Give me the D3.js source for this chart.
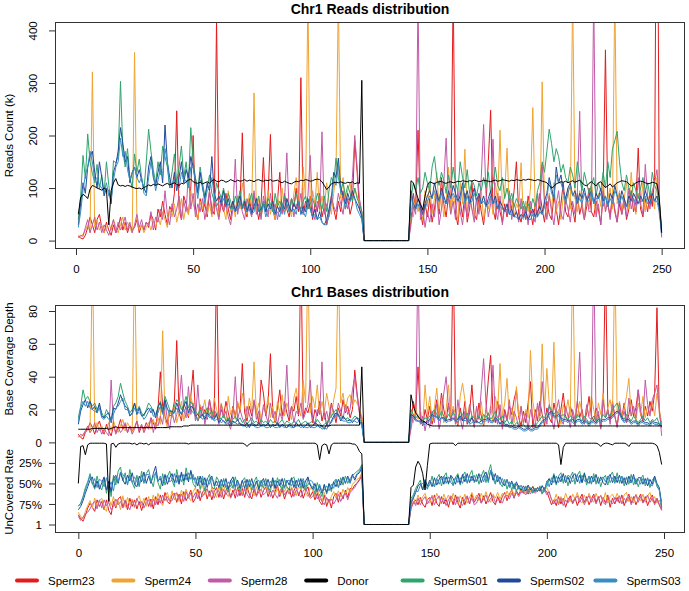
<!DOCTYPE html>
<html><head><meta charset="utf-8">
<script src="https://cdn.jsdelivr.net/npm/d3@7/dist/d3.min.js"></script>
<style>
body{margin:0;background:#fff}
svg{display:block}
text{font-family:"Liberation Sans",Arial,Helvetica,sans-serif;fill:#000}
</style>
</head><body>
<svg id="chart" width="689" height="591"></svg>
<script>
// ---------- DATA ----------
const seriesNames = ["Sperm23","Sperm24","Sperm28","Donor","SpermS01","SpermS02","SpermS03"];
const seriesColors = ["#E41A1C","#F0A432","#C05BA8","#000000","#2FA46E","#1F4A9B","#3A8DC2"];
const xTicksTop = [0,50,100,150,200,250];
const xTicksBottom = [0,50,100,150,200,250];
const readsTicks = [0,100,200,300,400];
const depthTicks = [0,20,40,60,80];
const rateTicks = [25,50,75,100];
const rateTickLabels = ["25%","50%","75%","1"];

// Reads count (k), bins 0..249
const readsSperm23 = [
8,5,3,10,25,45,30,15,40,50,
25,15,35,20,10,30,15,25,45,20,
35,15,30,20,25,40,15,30,20,35,
25,50,40,20,60,45,75,50,30,65,
55,90,247,60,40,85,70,50,100,200,
60,40,80,55,70,45,95,60,50,420,
45,70,55,90,60,40,75,55,85,65,
205,60,45,80,55,90,65,40,70,158,
55,85,202,60,40,75,130,55,90,60,
45,80,65,100,55,310,50,75,60,85,
40,70,55,90,45,65,30,50,85,60,
40,75,55,95,60,80,50,70,190,130,
60,50,0,0,0,0,0,0,0,0,
0,0,0,0,0,0,0,0,0,0,
0,0,40,90,60,210,55,30,70,45,
80,35,60,95,50,120,70,45,85,60,
480,50,30,75,45,90,35,60,110,50,
40,85,55,30,70,150,248,60,40,90,
55,35,70,45,80,60,95,150,50,35,
65,40,85,55,30,70,45,90,60,35,
75,50,40,85,60,30,70,110,55,45,
80,60,35,90,50,70,40,65,100,55,
45,75,60,30,85,363,70,45,90,55,
35,70,50,85,40,60,95,55,75,176,
60,45,80,55,90,65,120,900,50,30];
const readsSperm24 = [
10,8,12,20,30,15,321,25,40,20,
30,15,25,35,20,40,25,15,30,45,
20,35,25,15,358,40,20,30,15,25,
35,20,40,25,45,30,55,40,25,60,
45,70,35,55,80,40,65,50,95,70,
55,40,75,60,85,50,70,45,90,65,
50,80,60,40,95,55,70,45,85,60,
110,75,50,90,65,281,55,80,45,70,
60,95,50,75,40,85,60,100,55,80,
65,45,90,120,70,55,140,80,470,60,
95,70,130,55,85,60,110,75,50,90,
130,470,80,120,65,95,110,75,100,85,
70,55,0,0,0,0,0,0,0,0,
0,0,0,0,0,0,0,0,0,0,
0,0,60,45,85,55,75,40,95,65,
110,50,80,130,60,95,45,75,140,55,
85,65,40,110,70,174,55,90,60,45,
80,55,95,40,70,60,85,50,110,75,
210,60,90,176,55,80,45,70,60,148,
40,75,55,100,253,60,85,50,302,70,
45,90,60,110,55,75,40,85,65,100,
60,470,80,55,95,70,45,85,60,110,
75,50,90,65,120,55,80,100,60,480,
70,95,55,80,110,60,130,75,50,90,
65,110,55,85,70,95,60,120,75,25];
const readsSperm28 = [
5,10,8,25,40,15,30,45,20,35,
15,30,20,10,25,40,15,35,20,30,
45,20,35,15,30,50,25,40,20,35,
30,55,20,45,35,60,40,95,50,30,
70,45,60,85,40,75,55,130,60,90,
45,70,55,80,40,65,95,50,75,60,
40,85,55,70,45,30,60,155,50,75,
55,40,80,60,45,95,50,70,40,85,
60,45,90,55,70,40,65,50,75,167,
55,80,45,70,60,90,50,65,85,162,
55,40,75,60,207,50,70,45,85,65,
55,90,70,50,85,60,75,120,200,140,
80,55,0,0,0,0,0,0,0,0,
0,0,0,0,0,0,0,0,0,0,
0,0,30,65,50,470,40,60,25,55,
35,70,45,90,30,60,110,195,80,50,
75,40,95,55,30,70,45,85,60,35,
80,50,120,221,90,45,70,193,60,40,
85,30,65,50,95,40,70,55,35,80,
45,65,30,75,50,35,90,60,145,70,
40,85,55,30,70,95,50,40,80,60,
35,75,50,90,246,60,40,85,55,55,
470,45,70,30,95,55,75,40,85,60,
35,90,50,70,45,100,60,80,55,120,
70,50,145,85,60,95,110,135,75,6];
const readsDonor = [
50,82,88,85,80,98,105,103,100,98,
96,100,97,30,95,110,118,106,104,105,
103,105,104,102,100,99,100,98,101,103,
106,104,107,105,108,106,104,107,109,106,
108,110,107,105,109,108,112,115,117,112,
110,109,111,108,110,112,109,114,116,113,
112,115,114,111,113,116,114,112,115,113,
114,116,113,115,114,112,115,116,114,113,
115,114,116,113,114,115,112,110,113,111,
109,108,111,113,112,115,114,116,115,113,
114,116,117,116,112,105,97,102,108,110,
111,110,112,110,109,111,110,112,108,110,
109,305,0,0,0,0,0,0,0,0,
0,0,0,0,0,0,0,0,0,0,
0,0,114,110,95,80,70,59,85,105,
112,110,108,111,112,113,110,109,111,112,
110,111,113,112,114,113,112,114,113,115,
114,112,113,115,114,113,112,114,115,113,
114,116,115,114,113,115,114,116,115,114,
116,115,117,116,115,114,116,115,113,112,
110,105,100,103,108,110,112,111,113,110,
112,114,111,113,115,110,106,104,109,112,
108,104,110,112,106,101,104,108,102,106,
110,112,114,113,112,108,104,106,110,112,
113,112,110,108,109,111,110,108,80,15];
const readsSpermS01 = [
40,85,162,118,203,150,128,110,145,98,
125,90,150,105,75,152,148,160,303,170,
140,175,120,100,165,130,155,120,95,150,
212,170,135,110,150,125,180,160,140,100,
130,165,110,140,180,120,150,105,215,150,
120,95,140,110,85,100,125,90,75,110,
95,80,100,70,90,75,60,85,70,95,
65,80,55,75,90,60,70,85,55,75,
60,80,70,55,90,65,75,60,85,70,
55,80,65,90,70,60,75,85,60,70,
80,65,90,75,60,85,55,95,120,110,
157,120,95,110,85,105,90,75,100,80,
70,55,0,0,0,0,0,0,0,0,
0,0,0,0,0,0,0,0,0,0,
0,0,80,110,95,120,90,100,130,110,
95,140,160,120,105,130,115,90,125,100,
140,110,95,150,120,100,135,90,115,105,
85,110,95,120,100,130,90,110,140,105,
95,120,80,100,75,90,65,80,70,60,
75,55,70,60,80,65,95,110,150,130,
170,212,185,150,175,160,130,145,120,110,
140,125,100,150,120,95,130,110,90,105,
120,85,110,95,130,100,150,120,175,190,
208,150,110,95,125,100,85,110,95,80,
100,120,95,110,85,130,105,95,70,20];
const readsSpermS02 = [
30,70,110,90,140,160,170,130,100,150,
120,85,100,95,70,130,145,170,215,185,
150,160,110,130,140,120,135,115,100,90,
140,160,120,105,130,150,110,220,150,120,
100,130,95,120,150,110,135,120,160,140,
115,90,130,100,80,110,95,160,90,75,
85,70,95,65,80,60,75,55,70,85,
60,75,55,70,50,65,80,55,60,70,
55,70,60,75,50,65,55,70,60,80,
65,55,70,60,75,50,65,55,80,60,
45,60,40,55,35,30,40,60,80,130,
120,157,100,85,70,90,75,95,80,70,
60,45,0,0,0,0,0,0,0,0,
0,0,0,0,0,0,0,0,0,0,
0,0,95,70,60,80,65,50,70,85,
95,80,110,90,75,100,85,70,95,80,
105,90,75,85,110,80,95,70,85,100,
75,90,70,85,65,80,95,70,85,60,
75,65,55,70,50,60,45,55,40,50,
45,55,40,50,60,45,55,65,50,75,
90,120,100,80,140,110,125,95,80,100,
110,85,95,70,90,80,100,75,85,95,
70,90,80,100,75,85,65,90,80,105,
85,70,95,80,65,85,75,90,80,70,
85,75,95,80,70,90,75,85,60,15];
const readsSpermS03 = [
25,55,95,125,140,170,150,115,120,105,
100,90,110,85,80,115,140,150,195,160,
170,135,115,130,140,120,110,120,90,85,
120,150,125,95,115,135,120,175,150,100,
105,115,100,100,130,115,115,100,140,140,
110,80,115,105,70,95,100,120,85,65,
75,70,80,65,70,60,65,55,60,75,
60,65,55,60,50,55,70,55,50,70,
45,60,65,65,50,55,45,70,50,70,
55,55,60,50,75,50,55,45,70,60,
45,50,40,45,35,30,30,50,70,115,
105,145,90,85,60,80,75,85,80,60,
50,40,0,0,0,0,0,0,0,0,
0,0,0,0,0,0,0,0,0,0,
0,0,90,60,60,70,55,50,60,75,
85,80,95,80,75,90,75,70,85,80,
90,80,75,75,105,70,85,70,75,90,
75,80,70,75,65,70,85,70,75,60,
65,60,55,60,50,50,45,45,40,40,
45,45,40,40,50,45,45,55,50,65,
80,115,90,80,125,110,110,95,70,90,
105,85,85,70,80,70,90,75,75,95,
70,80,80,90,65,85,65,80,70,95,
85,70,85,70,65,75,75,80,70,70,
75,75,85,70,70,80,75,75,55,10];

// Base coverage depth, bins 0..249
const depthSperm23 = [
5,3,2,6,8,12,9,5,10,13,
8,5,11,7,4,10,6,9,14,8,
11,6,10,7,9,13,6,10,8,12,
9,15,12,8,20,43,22,16,11,19,
17,25,62,18,13,24,20,15,28,44,
18,13,22,16,20,14,26,18,15,110,
14,20,16,25,18,12,22,16,24,19,
48,18,13,22,16,25,19,12,38,30,
16,24,54,18,12,21,32,16,25,18,
13,22,19,28,16,120,15,21,18,24,
12,20,16,25,13,19,10,15,24,18,
12,21,16,26,18,22,15,20,44,30,
18,15,0,0,0,0,0,0,0,0,
0,0,0,0,0,0,0,0,0,0,
0,0,12,25,18,46,16,10,20,14,
22,11,18,26,15,30,20,13,24,17,
120,15,10,21,13,25,11,18,35,15,
12,24,16,10,20,38,53,18,12,25,
16,10,20,14,22,17,26,32,15,10,
19,12,24,37,9,20,13,25,17,10,
21,15,12,24,17,9,20,30,16,13,
22,17,10,25,15,20,12,18,28,16,
13,21,17,9,24,110,20,13,25,16,
10,20,15,24,12,17,26,16,21,32,
17,13,22,16,25,19,30,82,18,9];
const depthSperm24 = [
4,3,5,7,9,6,120,8,12,7,
10,6,9,12,7,13,9,6,10,14,
7,12,9,6,120,13,8,11,6,9,
12,8,14,9,15,11,68,14,9,20,
15,22,12,18,25,13,20,16,28,22,
17,13,23,19,26,15,21,14,27,20,
15,24,18,13,28,17,21,14,25,18,
30,22,15,27,19,49,17,24,14,21,
18,28,15,22,12,25,18,29,16,24,
19,14,27,33,21,16,38,24,115,18,
28,21,35,17,25,18,30,22,15,26,
33,115,24,30,19,27,29,22,26,24,
20,16,0,0,0,0,0,0,0,0,
0,0,0,0,0,0,0,0,0,0,
0,0,15,12,22,14,20,11,35,17,
28,13,21,33,16,25,12,20,35,14,
22,17,11,28,36,26,14,23,16,12,
21,14,25,11,19,16,22,13,28,20,
48,16,24,39,14,21,12,34,16,22,
11,20,15,56,25,16,22,13,60,19,
45,24,16,61,15,20,11,23,17,26,
16,115,21,15,25,18,12,22,16,28,
20,13,24,17,30,15,21,26,16,115,
18,25,15,21,28,39,16,20,13,24,
17,28,15,22,18,25,16,30,20,12];
const depthSperm28 = [
3,5,4,7,10,6,8,12,6,9,
5,8,6,4,38,11,5,9,6,8,
12,6,10,5,8,13,7,11,6,10,
8,15,6,12,10,16,11,25,14,8,
19,12,17,23,41,20,15,34,17,24,
13,35,15,22,11,18,26,14,20,17,
11,23,15,19,12,8,17,40,14,20,
15,11,22,17,12,26,14,19,11,23,
17,12,24,15,19,11,18,14,20,47,
15,22,12,19,17,24,14,18,23,38,
15,11,20,17,49,14,19,12,23,18,
15,24,19,14,23,17,20,32,40,28,
18,12,0,0,0,0,0,0,0,0,
0,0,0,0,0,0,0,0,0,0,
0,0,8,17,14,115,11,16,7,15,
9,19,12,24,8,16,30,40,21,13,
20,11,26,15,8,19,12,23,16,9,
22,14,32,51,24,12,19,47,16,11,
23,8,18,13,26,11,19,15,9,22,
12,18,8,20,14,9,24,16,37,19,
11,23,15,8,19,26,14,11,22,16,
9,20,14,24,55,16,11,23,15,14,
115,12,19,8,26,15,20,11,23,16,
9,24,14,19,12,27,16,22,15,32,
19,14,38,23,16,26,30,35,20,4];
const depthDonor = [
8,8,8,8,8,8,8.5,8.5,8.5,8.5,
8.5,8.5,8.5,8,8.5,9,9.5,9,9,9,
9,9,9,9,9,9,9,9,9,9,
9,9,9,9,9,9,9,9,9,9.5,
9.5,9.5,9.5,9.5,9.5,10,10,10,10.5,10.5,
10.5,10.5,10.5,10.5,10.5,10.5,10.5,10.5,10.5,10.5,
10.5,10.5,10.5,10.5,10.5,10.5,10.5,10.5,10.5,10.5,
10.5,10.5,10.5,10.5,10.5,10.5,10.5,10.5,10.5,10.5,
10.5,10.5,10.5,10.5,10.5,10.5,10.5,10.5,10.5,10.5,
10.5,10.5,10.5,10.5,10.5,10.5,10.5,10.5,10.5,10.5,
10.5,10.5,10.5,10.5,10,10,10,10,10.5,10.5,
10.5,10.5,10.5,10.5,10.5,10.5,10.5,10.5,10.5,10.5,
10.5,46,0,0,0,0,0,0,0,0,
0,0,0,0,0,0,0,0,0,0,
0,0,29,22,18,16,14,13,12.5,11,
10.5,10,10,10,10,10,10,10,10,10,
10,10,10,10,10,10,10,10,10,10,
10,10,10,10,10,10,10,10,10,10,
10,10,10,10,10,10,10,10,10,10,
10,10,10,10,10,10,10,10,10,10,
10,10,10,10,10,10,10,10,10,10,
10,10,10,10,10,10,10,10,10,10,
10,10,10,10,10,10,10,10,10,10,
10,10,10,10,10,10,10,10,10,10,
10,10,10,10,10,10,10,10,10,10];
const depthSpermS01 = [
15,22,32,26,28,25,22,24,20,23,
18,15,20,17,14,22,24,28,36,30,
25,22,18,20,24,19,22,18,16,20,
24,22,19,17,21,25,20,28,24,20,
18,22,26,24,20,23,28,21,25,22,
19,17,20,16,18,21,17,19,15,18,
16,14,17,13,15,12,14,16,13,15,
12,14,11,13,15,12,13,11,14,12,
13,11,14,12,13,11,12,14,11,13,
12,11,13,12,14,11,12,13,11,12,
13,11,14,12,10,11,12,14,16,18,
20,17,15,16,14,15,13,14,16,15,
14,12,0,0,0,0,0,0,0,0,
0,0,0,0,0,0,0,0,0,0,
0,0,20,17,15,16,14,13,15,14,
16,18,20,17,15,19,16,14,17,15,
18,16,14,19,17,15,18,13,16,15,
14,16,13,17,15,18,14,16,19,15,
14,16,12,14,11,13,10,12,11,10,
11,9,10,9,11,10,12,14,16,15,
18,22,20,17,19,18,16,17,15,14,
16,15,13,17,15,13,16,14,12,14,
16,13,15,14,17,15,18,16,20,22,
24,19,16,14,17,15,13,16,14,12,
14,16,13,15,12,14,13,15,11,13];
const depthSpermS02 = [
11,19,23,26,21,25,20,22,18,24,
16,15,17,18,12,21,20,24,29,25,
22,21,16,18,24,17,21,16,17,19,
21,18,20,15,22,24,18,26,20,19,
19,18,24,20,17,22,25,18,22,21,
16,17,15,17,14,18,16,15,14,17,
12,14,13,12,14,11,13,12,14,11,
11,10,12,9,12,11,10,12,10,11,
10,12,9,11,10,12,9,11,10,9,
11,10,9,12,10,11,9,10,12,9,
10,12,11,9,10,8,11,10,13,16,
18,17,13,16,14,13,14,12,14,15,
12,12,0,0,0,0,0,0,0,0,
0,0,0,0,0,0,0,0,0,0,
0,0,17,16,14,13,13,12,12,13,
14,17,16,16,14,15,15,13,14,14,
15,13,14,16,13,15,14,12,15,12,
13,12,13,14,14,15,13,13,15,14,
11,13,11,11,10,10,9,9,10,9,
8,8,9,8,8,9,9,11,13,14,
15,18,19,16,16,17,15,14,14,13,
13,14,12,14,14,12,13,13,11,13,
13,12,14,13,14,14,15,15,16,18,
19,18,15,13,14,14,12,13,13,11,
13,13,12,12,11,13,12,12,11,10];
const depthSpermS03 = [
13,21,25,22,25,21,20,19,18,21,
15,14,16,14,13,17,21,22,25,27,
20,20,17,17,21,18,18,17,14,16,
19,21,16,16,18,22,17,22,21,16,
17,18,21,18,18,19,21,19,20,18,
17,13,16,14,16,17,15,15,13,14,
14,12,13,11,12,10,12,12,11,12,
10,10,9,11,11,10,9,9,10,10,
9,9,10,10,9,9,10,10,9,9,
10,9,9,10,10,9,10,9,9,10,
9,9,10,10,8,9,8,11,12,15,
17,16,14,13,13,12,12,13,13,12,
13,10,0,0,0,0,0,0,0,0,
0,0,0,0,0,0,0,0,0,0,
0,0,16,15,13,13,12,11,11,12,
13,16,16,15,13,15,14,12,13,13,
14,14,12,15,15,13,14,11,12,13,
12,12,11,13,13,14,12,12,15,13,
12,12,10,10,9,9,8,8,9,8,
7,7,8,7,7,8,8,10,12,13,
14,17,18,15,15,16,14,13,13,12,
14,12,11,13,13,11,12,12,10,12,
12,11,13,12,13,13,14,14,15,17,
18,17,14,12,13,13,11,12,12,10,
12,12,11,11,10,12,11,11,10,12];

// Uncovered rate (%), bins 0..249
const uncovSperm23 = [
88,93,96,89,80,74,79,84,70,78,
72,82,70,83,88,72,80,69,66,79,
71,82,68,78,70,81,72,83,74,67,
78,69,81,66,76,64,74,61,72,75,
64,62,73,63,75,60,71,65,58,73,
68,57,71,61,56,69,59,70,60,55,
67,56,69,59,54,67,58,68,55,65,
56,67,54,63,69,57,65,55,67,59,
54,66,58,68,60,52,66,57,69,60,
56,67,59,53,65,57,68,60,54,66,
60,70,62,72,76,64,78,69,80,66,
62,73,61,69,58,67,56,57,52,50,
46,40,100,100,100,100,100,100,100,100,
100,100,100,100,100,100,100,100,100,100,
100,100,80,74,70,76,67,75,79,70,
67,77,64,74,78,66,75,69,79,67,
76,64,73,80,67,76,66,75,63,73,
68,62,74,65,75,68,61,72,76,66,
74,66,61,71,63,58,68,59,64,57,
62,58,63,57,61,56,60,55,62,58,
60,68,76,70,77,66,75,68,79,70,
65,74,67,77,69,63,73,66,76,69,
63,73,66,77,67,74,64,79,68,75,
67,74,64,77,69,63,74,66,76,69,
63,73,66,77,69,64,74,68,76,82];
const uncovSperm24 = [
85,90,94,84,77,71,80,68,78,71,
68,80,84,67,77,66,78,71,82,65,
79,67,76,69,80,70,65,77,68,78,
66,76,64,74,62,72,77,66,61,71,
59,70,62,72,58,67,57,66,71,60,
55,66,58,52,64,57,66,54,62,67,
54,63,52,61,66,56,53,62,58,51,
63,55,61,52,60,65,54,62,57,51,
53,62,55,50,63,57,64,52,60,54,
62,54,60,65,53,58,51,61,66,55,
58,66,56,68,72,61,70,74,66,60,
68,59,66,57,64,55,61,51,48,45,
43,37,100,100,100,100,100,100,100,100,
100,100,100,100,100,100,100,100,100,100,
100,100,76,67,75,64,72,66,62,71,
74,64,71,62,69,75,63,70,64,72,
62,70,75,65,71,63,74,67,61,70,
64,71,62,70,60,69,73,63,68,61,
69,62,67,59,66,57,64,58,55,62,
56,62,54,60,53,59,55,60,52,58,
55,62,69,72,63,74,66,73,62,70,
72,63,69,61,71,74,64,72,62,69,
73,62,70,64,72,61,74,66,63,70,
62,69,73,64,61,72,66,74,63,69,
71,63,73,65,61,72,66,74,70,80];
const uncovSperm28 = [
90,95,91,87,85,81,75,72,81,70,
80,70,77,73,82,78,69,76,72,80,
70,77,82,71,78,68,76,72,80,73,
70,79,69,76,68,74,64,71,66,72,
71,64,61,69,63,72,60,68,62,67,
61,69,59,66,61,56,65,58,68,60,
59,67,57,64,58,68,62,56,66,58,
65,57,63,68,58,55,66,60,57,64,
61,55,66,58,63,68,59,55,64,59,
63,56,66,58,62,67,59,55,63,68,
66,61,69,63,72,76,67,73,69,75,
70,63,72,65,62,70,61,58,55,49,
45,40,100,100,100,100,100,100,100,100,
100,100,100,100,100,100,100,100,100,100,
100,100,81,72,77,68,76,70,66,75,
70,66,76,69,65,74,68,77,70,65,
69,76,66,73,77,69,65,74,68,76,
74,66,74,69,64,73,68,65,73,70,
70,74,66,64,69,62,67,61,66,60,
61,64,57,63,57,62,59,56,63,58,
64,60,70,75,69,76,68,77,70,74,
67,75,69,65,73,67,76,69,65,73,
66,75,68,65,73,76,68,71,75,67,
72,65,75,68,73,66,76,69,64,73,
66,74,69,64,73,68,76,69,76,83];
const uncovDonor = [
50,5,4,15,3,1,1,1,1,1,
1,1,2,72,2,1,6,2,1,1,
1,1,1,2,1,3,1,1,2,1,
3,1,1,1,1,1,1,1,1,1,
1,1,1,1,1,1,1,2,1,1,
1,1,1,1,1,1,1,1,1,1,
1,1,1,1,1,1,1,1,1,1,
1,2,5,2,1,1,1,1,1,1,
1,1,1,1,1,1,1,1,1,1,
1,1,1,1,1,1,1,1,1,1,
1,1,3,21,4,2,3,14,3,1,
1,1,1,1,1,1,1,2,2,5,
11,14,100,100,100,100,100,100,100,100,
100,100,100,100,100,100,100,100,100,100,
100,100,55,52,30,23,28,38,58,28,
2,1,1,1,1,1,1,1,1,1,
1,4,1,1,1,1,1,1,1,1,
1,1,1,1,1,1,1,1,1,1,
1,1,1,1,1,1,1,1,1,1,
1,1,1,1,1,1,1,1,1,1,
1,1,1,1,1,3,27,6,1,1,
1,1,1,1,1,1,1,1,1,1,
1,1,2,5,2,1,1,2,3,1,
1,1,1,1,2,5,1,1,1,1,
1,1,1,1,1,1,2,4,12,27];
const uncovSpermS01 = [
78,74,66,55,48,38,50,57,41,53,
58,44,62,47,66,40,52,35,30,47,
37,52,33,49,56,40,54,35,50,38,
33,46,54,36,49,57,38,52,42,35,
46,54,33,48,38,52,31,45,36,50,
55,41,57,44,59,45,39,54,57,42,
47,58,44,55,60,46,56,42,53,59,
47,43,56,45,58,48,42,55,46,56,
44,55,59,46,56,43,52,58,44,54,
57,45,42,54,44,56,47,59,43,52,
54,62,49,59,66,52,63,51,60,48,
45,55,43,52,41,50,44,40,38,35,
33,27,100,100,100,100,100,100,100,100,
100,100,100,100,100,100,100,100,100,100,
100,100,68,64,56,51,46,58,45,55,
52,41,54,44,39,53,42,37,51,41,
53,43,38,52,41,36,50,40,34,49,
39,51,41,34,49,37,27,44,51,41,
50,54,45,57,48,58,50,60,52,58,
60,53,61,55,62,56,60,53,62,55,
54,45,48,38,52,41,37,50,40,53,
42,36,51,40,35,49,39,52,41,50,
38,51,42,54,44,40,52,41,36,48,
37,50,41,53,43,51,39,52,44,54,
45,40,53,44,55,46,42,54,58,72];
const uncovSpermS02 = [
82,78,71,62,54,46,42,55,47,57,
49,42,58,47,60,44,40,50,37,46,
51,40,47,37,51,54,41,48,36,50,
41,50,38,29,47,44,53,39,51,43,
38,49,40,51,36,47,38,48,34,45,
43,53,41,52,43,55,45,41,53,47,
55,45,54,44,57,47,42,54,46,56,
46,56,45,54,44,55,47,57,49,44,
53,45,55,43,56,47,53,44,55,46,
52,43,55,46,54,44,56,47,42,52,
57,50,60,53,62,51,61,50,57,48,
54,45,52,42,50,41,49,39,46,39,
37,31,100,100,100,100,100,100,100,100,
100,100,100,100,100,100,100,100,100,100,
100,100,74,68,61,53,50,58,46,53,
46,54,43,52,45,41,51,42,50,40,
44,51,40,50,39,48,38,49,41,47,
47,38,49,41,36,47,34,46,38,48,
42,50,53,45,54,47,56,48,55,58,
53,59,52,58,54,60,55,59,53,58,
48,44,52,40,50,42,48,38,49,42,
50,41,38,48,40,49,37,47,50,41,
48,39,50,42,49,52,43,39,49,41,
49,40,50,43,52,41,49,39,51,43,
43,51,44,53,45,51,41,50,55,79];
const uncovSpermS03 = [
77,75,67,58,50,41,51,44,55,45,
47,54,43,56,48,59,42,48,36,39,
43,51,40,49,42,48,53,40,49,39,
39,48,42,37,48,41,49,46,40,48,
46,38,49,40,48,39,46,37,45,39,
50,43,49,41,52,44,51,43,49,53,
47,53,45,55,48,54,46,56,47,53,
55,47,54,46,52,56,49,46,54,47,
52,55,47,53,46,54,45,52,56,47,
46,53,47,55,45,52,44,54,52,46,
48,57,61,51,60,58,53,59,51,56,
45,55,47,44,49,43,50,41,43,38,
35,29,100,100,100,100,100,100,100,100,
100,100,100,100,100,100,100,100,100,100,
100,100,72,66,59,60,52,50,52,57,
47,50,54,44,51,44,41,50,42,49,
52,42,49,43,50,41,49,40,47,40,
48,42,39,48,40,49,34,38,49,40,
51,44,52,46,55,49,57,51,57,52,
60,54,58,56,59,56,59,54,58,60,
47,54,43,49,41,49,41,46,48,40,
42,48,45,39,50,40,47,48,41,51,
42,47,49,46,42,48,41,49,43,50,
42,48,41,49,42,48,49,43,50,45,
51,44,50,43,51,53,45,51,58,81];

// ---------- BUILD ----------
const readsData = [readsSperm23,readsSperm24,readsSperm28,readsDonor,readsSpermS01,readsSpermS02,readsSpermS03];
const depthData = [depthSperm23,depthSperm24,depthSperm28,depthDonor,depthSpermS01,depthSpermS02,depthSpermS03];
const uncovData = [uncovSperm23,uncovSperm24,uncovSperm28,uncovDonor,uncovSpermS01,uncovSpermS02,uncovSpermS03];
const drawOrder = [0,1,2,4,5,6,3];

const svg = d3.select("#chart");
const L = 55, R = 685;
const topBox = {y0:22, y1:249};
const botBox = {y0:305, y1:533};

const xTop = d3.scaleLinear().domain([-8.96, 259.96]).range([L, R]);
const xBot = d3.scaleLinear().domain([-9.96, 258.96]).range([L, R]);
const yTop = d3.scaleLinear().domain([-16, 416]).range([topBox.y1, topBox.y0]);
const yBot = d3.scaleLinear().domain([-50, 80]).range([524.5, 311]);

const defs = svg.append("defs");
defs.append("clipPath").attr("id","clipTop").append("rect")
  .attr("x",L).attr("y",topBox.y0).attr("width",R-L).attr("height",topBox.y1-topBox.y0);
defs.append("clipPath").attr("id","clipBot").append("rect")
  .attr("x",L).attr("y",botBox.y0).attr("width",R-L).attr("height",botBox.y1-botBox.y0);

// Top panel lines
const gTop = svg.append("g").attr("clip-path","url(#clipTop)");
drawOrder.forEach(k => {
  const line = d3.line().x((d,i)=>xTop(i+1)).y(d=>yTop(d));
  gTop.append("path").datum(readsData[k]).attr("d", line)
    .attr("fill","none").attr("stroke", seriesColors[k]).attr("stroke-width",1)
    .attr("stroke-linejoin","round");
});

// Bottom panel lines (depth above 0, uncovered rate below 0)
const gBot = svg.append("g").attr("clip-path","url(#clipBot)");
drawOrder.forEach(k => {
  const lineD = d3.line().x((d,i)=>xBot(i)).y(d=>yBot(d));
  gBot.append("path").datum(depthData[k]).attr("d", lineD)
    .attr("fill","none").attr("stroke", seriesColors[k]).attr("stroke-width",1)
    .attr("stroke-linejoin","round");
});
drawOrder.forEach(k => {
  const lineU = d3.line().x((d,i)=>xBot(i)).y(d=>yBot(-d/2));
  gBot.append("path").datum(uncovData[k]).attr("d", lineU)
    .attr("fill","none").attr("stroke", seriesColors[k]).attr("stroke-width",1)
    .attr("stroke-linejoin","round");
});

// Boxes
[topBox, botBox].forEach(b => {
  svg.append("rect").attr("x",L+0.5).attr("y",b.y0+0.5)
    .attr("width",R-L-1).attr("height",b.y1-b.y0-1)
    .attr("fill","none").attr("stroke","#333").attr("stroke-width",1);
});

function styleAxis(g){
  g.select(".domain").remove();
  g.selectAll(".tick line").attr("stroke","#333");
  g.selectAll(".tick text").attr("font-size","11.5px")
    .attr("font-family",'"Liberation Sans",Arial,Helvetica,sans-serif').attr("fill","#000");
}

// X axes
const axTop = svg.append("g").attr("transform",`translate(0,${topBox.y1})`)
  .call(d3.axisBottom(xTop).tickValues(xTicksTop).tickSize(6).tickPadding(10).tickFormat(d3.format("d")));
styleAxis(axTop);
const axBot = svg.append("g").attr("transform",`translate(0,${botBox.y1})`)
  .call(d3.axisBottom(xBot).tickValues(xTicksBottom).tickSize(6).tickPadding(10).tickFormat(d3.format("d")));
styleAxis(axBot);

// Y axis top (rotated labels)
const ayTop = svg.append("g").attr("transform",`translate(${L},0)`)
  .call(d3.axisLeft(yTop).tickValues(readsTicks).tickSize(6).tickFormat(d3.format("d")));
styleAxis(ayTop);
ayTop.selectAll(".tick text").attr("transform","rotate(-90)").attr("x",0).attr("y",-18).attr("dy",0)
  .attr("text-anchor","middle");

// Y axis bottom: depth
const ayDepth = svg.append("g").attr("transform",`translate(${L},0)`)
  .call(d3.axisLeft(yBot).tickValues(depthTicks).tickSize(6).tickFormat(d3.format("d")));
styleAxis(ayDepth);
ayDepth.selectAll(".tick text").each(function(d){
  const t = d3.select(this);
  if (d === 0) {
    t.attr("x",-13).attr("dy","0.35em").attr("text-anchor","end");
  } else {
    t.attr("transform","rotate(-90)").attr("x",0).attr("y",-18).attr("dy",0).attr("text-anchor","middle");
  }
});
// Y axis bottom: uncovered rate
const ayRate = svg.append("g").attr("transform",`translate(${L},0)`)
  .call(d3.axisLeft(yBot).tickValues(rateTicks.map(p=>-p/2)).tickSize(6).tickPadding(7)
    .tickFormat((d,i)=>rateTickLabels[i]));
styleAxis(ayRate);
ayRate.selectAll(".tick text").attr("dy","0.35em");

// Titles
svg.append("text").attr("x",370).attr("y",14).attr("text-anchor","middle")
  .attr("font-size","14px").attr("font-weight","bold").text("Chr1 Reads distribution");
svg.append("text").attr("x",370).attr("y",297).attr("text-anchor","middle")
  .attr("font-size","14px").attr("font-weight","bold").text("Chr1 Bases distribution");

// Y titles
function yTitle(txt, cy){
  svg.append("text").attr("transform",`translate(13,${cy}) rotate(-90)`)
    .attr("text-anchor","middle").attr("font-size","11.5px").text(txt);
}
yTitle("Reads Count (k)", (topBox.y0+topBox.y1)/2);
yTitle("Base Coverage Depth", 359);
yTitle("UnCovered Rate", 492);

// Legend
const legend = svg.append("g");
seriesNames.forEach((name,k) => {
  const x0 = 15 + k*96.4;
  legend.append("line").attr("x1",x0+2).attr("x2",x0+22).attr("y1",580.5).attr("y2",580.5)
    .attr("stroke",seriesColors[k]).attr("stroke-width",4).attr("stroke-linecap","round");
  legend.append("text").attr("x",x0+33).attr("y",584.5).attr("font-size","11.5px").text(name);
});
</script>
</body></html>
